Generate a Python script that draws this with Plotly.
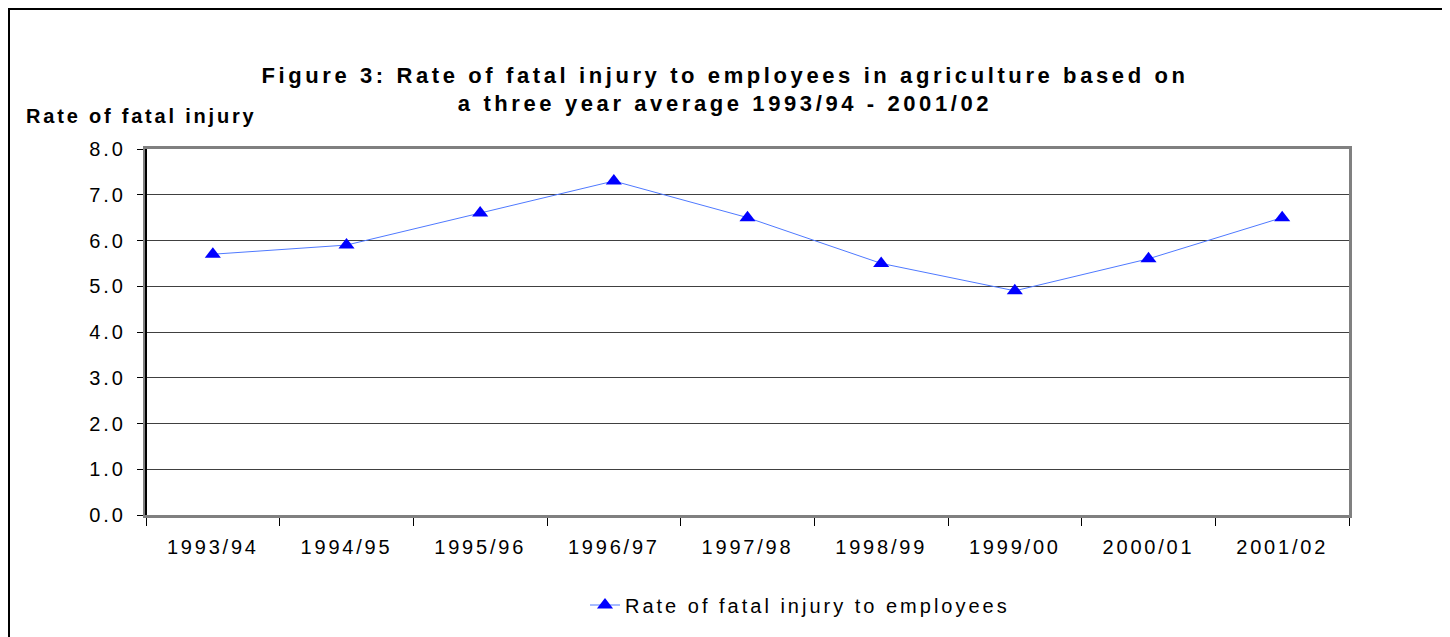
import plotly.graph_objects as go

# Data
years = ["1993/94", "1994/95", "1995/96", "1996/97", "1997/98",
         "1998/99", "1999/00", "2000/01", "2001/02"]
rates = [5.7, 5.9, 6.6, 7.3, 6.5, 5.5, 4.9, 5.6, 6.5]
y_ticks = [0, 1, 2, 3, 4, 5, 6, 7, 8]
y_tick_labels = ["0.0", "1.0", "2.0", "3.0", "4.0", "5.0", "6.0", "7.0", "8.0"]
series_name = "Rate of fatal injury to employees"
title_lines = ["Figure 3: Rate of fatal injury to employees in agriculture based on",
               "a three year average 1993/94 - 2001/02"]
y_title = "Rate of fatal injury"

OFF = 8  # body margin of the html page
W, H = 1450 - OFF, 637 - OFF
L, R, T, B = 146 - OFF, 101, 149 - OFF, 122
pw = W - L - R
ph = H - T - B

FONT = "Liberation Sans, Arial, sans-serif"


def sp(text, px):
    return '<span style="letter-spacing:%spx">%s</span>' % (px, text)


def px_x(page_x):
    return (page_x - 146) / pw


def px_y(page_y):
    return (515 - page_y) / ph


fig = go.Figure()
fig.add_trace(go.Scatter(
    x=years, y=rates, mode="lines+markers", name=sp(series_name, 3),
    line=dict(color="#4f79ff", width=1),
    marker=dict(symbol="triangle-up", size=14, color="#0000ff",
                line=dict(width=0)),
))

fig.update_layout(
    width=W, height=H,
    margin=dict(l=L, r=R, t=T, b=B, pad=0),
    paper_bgcolor="white", plot_bgcolor="white",
    font=dict(family=FONT, color="black", size=20),
    title=dict(text="<br>".join(sp(t, 3.6) for t in title_lines),
               x=(725 - OFF) / W, xanchor="center",
               y=1 - 74.5 / H, yanchor="middle", yref="container",
               font=dict(family=FONT, size=22, color="black", weight="bold")),
    showlegend=True,
    legend=dict(orientation="h", x=px_x(800), xanchor="center",
                y=px_y(605), yanchor="middle",
                font=dict(family=FONT, size=20, color="black"),
                bgcolor="rgba(0,0,0,0)"),
    xaxis=dict(type="category", range=[-0.5, len(years) - 0.5],
               tickvals=years, ticktext=[sp(y, 2.8) for y in years],
               tickson="boundaries", ticks="outside", ticklen=8,
               tickcolor="black", tickwidth=1,
               showline=True, linecolor="#808080", linewidth=3, mirror=True,
               showgrid=False, tickfont=dict(size=20), ticklabelstandoff=12),
    yaxis=dict(range=[0, 8], tickvals=y_ticks,
               ticktext=[sp(t, 3) for t in y_tick_labels],
               ticks="outside", ticklen=6, tickcolor="black", tickwidth=1,
               showline=True, linecolor="#808080", linewidth=3, mirror=True,
               showgrid=True, gridcolor="#404040", gridwidth=1,
               zeroline=False, tickfont=dict(size=20), ticklabelstandoff=7),
    annotations=[dict(text="<b>" + sp(y_title, 2.8) + "</b>",
                      xref="paper", yref="paper",
                      x=px_x(24), y=px_y(116),
                      xanchor="left", yanchor="middle", showarrow=False,
                      font=dict(family=FONT, size=20, color="black"))],
    shapes=[
        # left axis in black
        dict(type="line", xref="paper", yref="paper", x0=0, x1=0, y0=0, y1=1,
             line=dict(color="black", width=2), layer="above"),
        # outer frame of the chart
        dict(type="rect", xref="paper", yref="paper",
             x0=px_x(9), x1=px_x(1443),
             y0=px_y(650), y1=px_y(9),
             line=dict(color="black", width=2), fillcolor="rgba(0,0,0,0)",
             layer="below"),
    ],
)

fig.write_html("out.html")
